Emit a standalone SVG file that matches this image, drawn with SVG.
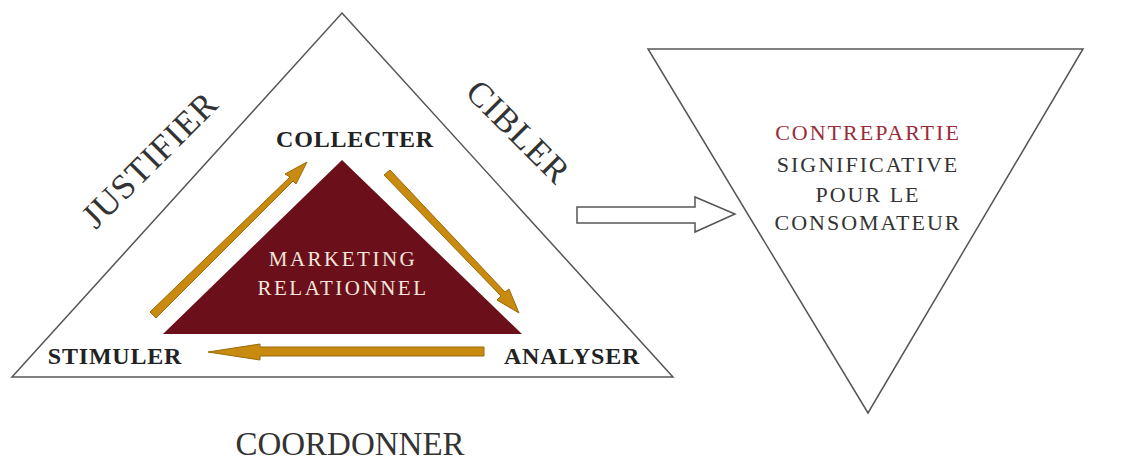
<svg xmlns="http://www.w3.org/2000/svg" width="1121" height="461" viewBox="0 0 1121 461">
<style>
.outline{fill:#fff;stroke:#555;stroke-width:1.5}
.lab{font-family:"Liberation Serif",serif;font-weight:bold;font-size:24px;fill:#222;text-anchor:middle;letter-spacing:0.8px}
.big{font-family:"Liberation Serif",serif;font-size:35px;fill:#333;text-anchor:middle}
.inner{font-family:"Liberation Serif",serif;font-size:21px;fill:#f3e6dc;text-anchor:middle;letter-spacing:2.5px}
.side{font-family:"Liberation Serif",serif;font-size:22px;fill:#333;text-anchor:middle;letter-spacing:2px}
.orange{fill:#c98a10;stroke:#9a6a08;stroke-width:1}
</style>
<rect width="1121" height="461" fill="#fff"/>
<g id="outer-triangle">
<polygon class="outline" points="342,13 673,377 12,377"/>
<text class="big" transform="translate(158,168) rotate(-45)" style="letter-spacing:1px">JUSTIFIER</text>
<text class="big" transform="translate(510,140) rotate(45)" style="letter-spacing:1px">CIBLER</text>
</g>
<g id="core">
<polygon points="342,160 522,334 163,334" fill="#6b0f1a"/>
<text class="inner" x="343" y="266">MARKETING</text>
<text class="inner" x="343" y="295">RELATIONNEL</text>
</g>
<g id="collecter"><text class="lab" x="355" y="147">COLLECTER</text></g>
<g id="stimuler"><text class="lab" x="115" y="364">STIMULER</text></g>
<g id="analyser"><text class="lab" x="572" y="364">ANALYSER</text></g>
<g id="coordonner"><text class="big" x="350" y="455" style="font-size:33px">COORDONNER</text></g>
<g id="result">
<polygon class="outline" points="648,49 1083,49 868,413"/>
<text class="side" x="868" y="140" style="fill:#9b2c3a">CONTREPARTIE</text>
<text class="side" x="868" y="172">SIGNIFICATIVE</text>
<text class="side" x="868" y="202">POUR LE</text>
<text class="side" x="868" y="230">CONSOMATEUR</text>
</g>
<g id="connectors">
<polygon class="orange" points="150,312 290,177 285,174 307,162 296,184 293,181 156,318"/>
<polygon class="orange" points="384,175 390,170 505,292 509,289 519,313 497,300 501,296"/>
<polygon class="orange" points="484,347 484,356 260,356 260,360 208,352 260,344 260,347"/>
<polygon class="outline" points="577,207 695,207 695,197 735,214 695,232 695,223 577,223"/>
</g>
</svg>
